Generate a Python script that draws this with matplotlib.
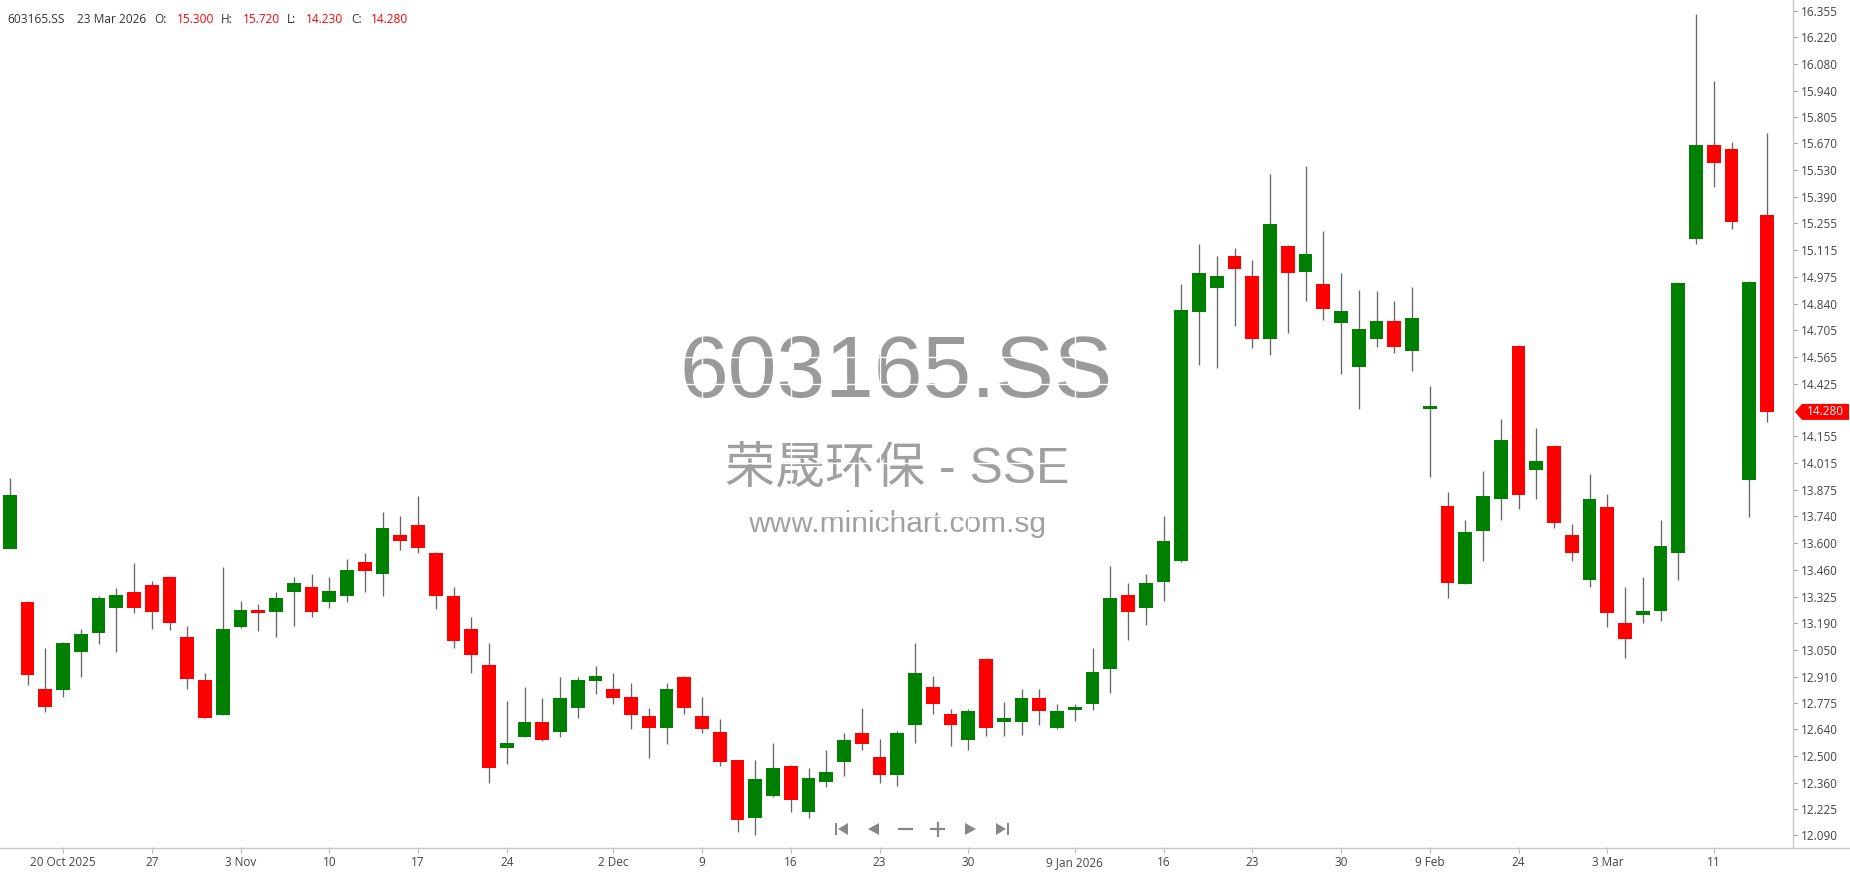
import matplotlib
matplotlib.use('Agg')
import matplotlib.pyplot as plt
from matplotlib.patches import Polygon, Rectangle

plt.rcParams['font.family'] = ['Open Sans', 'DejaVu Sans']

symbol = '603165.SS'
subtitle = '荣晟环保 - SSE'
site = 'www.minichart.com.sg'
last_date = '23 Mar 2026'

# daily OHLC (oldest first)
opens = [13.570, 13.295, 12.846, 12.841, 13.040, 13.138, 13.266, 13.347, 13.387, 13.425,
         13.114, 12.895, 12.711, 13.168, 13.248, 13.246, 13.349, 13.375, 13.297, 13.330,
         13.504, 13.440, 13.645, 13.697, 13.549, 13.330, 13.156, 12.969, 12.542, 12.601,
         12.677, 12.627, 12.749, 12.891, 12.846, 12.806, 12.709, 12.645, 12.910, 12.709,
         12.625, 12.478, 12.182, 12.293, 12.451, 12.213, 12.368, 12.471, 12.620, 12.495,
         12.401, 12.662, 12.857, 12.716, 12.583, 13.001, 12.675, 12.675, 12.800, 12.646,
         12.738, 12.769, 12.953, 13.332, 13.266, 13.402, 13.511, 14.799, 14.922, 15.086,
         14.985, 14.655, 15.139, 15.005, 14.939, 14.740, 14.513, 14.656, 14.748, 14.597,
         14.295, 13.794, 13.391, 13.663, 13.829, 14.619, 13.978, 14.105, 13.645, 13.410,
         13.788, 13.190, 13.232, 13.248, 13.551, 15.173, 15.660, 15.641, 13.927, 15.300]
highs = [13.940, 13.300, 13.058, 13.090, 13.156, 13.330, 13.370, 13.497, 13.407, 13.432,
         13.173, 12.928, 13.478, 13.304, 13.285, 13.349, 13.427, 13.440, 13.427, 13.518,
         13.549, 13.762, 13.743, 13.847, 13.556, 13.375, 13.218, 13.084, 12.787, 12.858,
         12.799, 12.910, 12.910, 12.968, 12.928, 12.877, 12.749, 12.877, 12.916, 12.806,
         12.691, 12.480, 12.478, 12.568, 12.453, 12.440, 12.530, 12.620, 12.749, 12.587,
         12.630, 13.086, 12.916, 12.745, 12.745, 13.005, 12.780, 12.846, 12.846, 12.767,
         12.767, 13.060, 13.483, 13.393, 13.443, 13.744, 14.939, 15.147, 15.088, 15.128,
         15.068, 15.511, 15.145, 15.550, 15.217, 15.000, 14.912, 14.904, 14.852, 14.924,
         14.413, 13.865, 13.722, 13.976, 14.245, 14.626, 14.197, 14.109, 13.698, 13.957,
         13.855, 13.373, 13.426, 13.722, 14.950, 16.338, 15.991, 15.674, 14.955, 15.720]
lows = [13.570, 12.866, 12.730, 12.808, 12.911, 13.079, 13.040, 13.239, 13.156, 13.151,
        12.846, 12.697, 12.711, 13.165, 13.149, 13.116, 13.175, 13.221, 13.266, 13.297,
        13.350, 13.330, 13.567, 13.549, 13.259, 13.059, 12.932, 12.361, 12.460, 12.598,
        12.580, 12.601, 12.697, 12.820, 12.768, 12.639, 12.490, 12.561, 12.717, 12.618,
        12.451, 12.109, 12.092, 12.290, 12.213, 12.180, 12.342, 12.399, 12.530, 12.361,
        12.347, 12.570, 12.719, 12.550, 12.532, 12.602, 12.602, 12.611, 12.662, 12.640,
        12.679, 12.736, 12.828, 13.102, 13.178, 13.303, 13.503, 14.523, 14.506, 14.725,
        14.609, 14.576, 14.688, 14.856, 14.757, 14.476, 14.295, 14.615, 14.585, 14.489,
        13.945, 13.320, 13.388, 13.508, 13.720, 13.778, 13.829, 13.679, 13.508, 13.377,
        13.166, 13.005, 13.190, 13.197, 13.410, 15.147, 15.443, 15.224, 13.739, 14.230]
closes = [13.850, 12.918, 12.754, 13.084, 13.130, 13.316, 13.335, 13.266, 13.246, 13.188,
          12.897, 12.697, 13.155, 13.257, 13.242, 13.316, 13.394, 13.246, 13.356, 13.464,
          13.459, 13.678, 13.614, 13.575, 13.330, 13.097, 13.022, 12.440, 12.567, 12.677,
          12.582, 12.799, 12.895, 12.916, 12.801, 12.711, 12.645, 12.846, 12.749, 12.639,
          12.471, 12.168, 12.380, 12.440, 12.272, 12.387, 12.418, 12.582, 12.561, 12.401,
          12.620, 12.929, 12.771, 12.662, 12.734, 12.646, 12.697, 12.800, 12.734, 12.734,
          12.756, 12.935, 13.319, 13.244, 13.397, 13.612, 14.808, 14.998, 14.983, 15.018,
          14.655, 15.250, 15.000, 15.095, 14.812, 14.800, 14.711, 14.748, 14.615, 14.765,
          14.311, 13.397, 13.659, 13.847, 14.137, 13.851, 14.027, 13.706, 13.551, 13.827,
          13.242, 13.105, 13.248, 13.587, 14.944, 15.660, 15.568, 15.263, 14.951, 14.280]

# date labels and the candle index they sit under
tick_idx = [3, 8, 13, 18, 23, 28, 34, 39, 44, 49, 54, 60, 65, 70, 75, 80, 85, 90, 96]
tick_labels = ['20 Oct 2025', '27', '3 Nov', '10', '17', '24', '2 Dec', '9', '16', '23',
               '30', '9 Jan 2026', '16', '23', '30', '9 Feb', '24', '3 Mar', '11']

price_labels = ['16.355', '16.220', '16.080', '15.940', '15.805', '15.670', '15.530', '15.390',
                '15.255', '15.115', '14.975', '14.840', '14.705', '14.565', '14.425', '14.155',
                '14.015', '13.875', '13.740', '13.600', '13.460', '13.325', '13.190', '13.050',
                '12.910', '12.775', '12.640', '12.500', '12.360', '12.225', '12.090']

W, H = 1850, 874
UP, DOWN, WICK = '#008000', '#ff0000', '#666666'
TXT = '#444444'

fig = plt.figure(figsize=(W / 100, H / 100), dpi=100)
ax = fig.add_axes([0, 27 / H, 1793 / W, 847 / H])
ov = fig.add_axes([0, 0, 1, 1], zorder=5)
ov.set_xlim(0, W)
ov.set_ylim(H, 0)
ov.axis('off')
ov.patch.set_alpha(0)

n = len(closes)
xs = list(range(n))
colors = [UP if c >= o else DOWN for o, c in zip(opens, closes)]
bottoms = [min(o, c) for o, c in zip(opens, closes)]
heights = [max(abs(c - o), 0.011) for o, c in zip(opens, closes)]

ax.vlines(xs, lows, highs, color=WICK, lw=0.95, zorder=2)
ax.bar(xs, heights, bottom=bottoms, width=0.77, color=colors, lw=0, zorder=3)

ax.set_xlim(-0.55, 100.46)
ax.set_ylim(12.030, 16.410)

# watermark, cut by white grid lines like the original
ax.text(896, 397, symbol, transform=ov.transData, ha='center', va='baseline',
        fontsize=63, color='#9a9a9a', family=['Liberation Sans', 'DejaVu Sans'], zorder=0.2)
ax.text(897, 482, subtitle, transform=ov.transData, ha='center', va='baseline',
        fontsize=36, color='#a0a0a0', family=['Liberation Sans', 'Noto Sans CJK SC'], zorder=0.2)
ax.text(897, 532, site, transform=ov.transData, ha='center', va='baseline',
        fontsize=21.5, color='#a0a0a0', family=['Liberation Sans', 'DejaVu Sans'], zorder=0.2)
ax.set_axisbelow(True)
ax.grid(True, color='white', lw=1.0)

ax.set_xticks(tick_idx)
ax.set_xticklabels(tick_labels)
ax.set_yticks([float(s) for s in price_labels])
ax.set_yticklabels(price_labels)
ax.yaxis.tick_right()
ax.tick_params(axis='y', length=3, width=0.8, color='#999999', pad=2.5,
               labelsize=8.5, labelcolor=TXT)
ax.tick_params(axis='x', length=4.5, width=0.8, color='#bbbbbb', pad=2,
               labelsize=8.5, labelcolor=TXT)
for side in ('top', 'left', 'bottom'):
    ax.spines[side].set_visible(False)
ax.spines['right'].set_color('#c8c8c8')
ax.spines['right'].set_linewidth(1.0)

# full-width base line
ov.plot([0, W], [847.5, 847.5], color='#c8c8c8', lw=1.0)

# last price marker on the price scale
y_last = H - ax.transData.transform((0, closes[-1]))[1]
ov.add_patch(Polygon([(1795, y_last), (1802, y_last - 8), (1849, y_last - 8),
                      (1849, y_last + 8), (1802, y_last + 8)], closed=True,
                     color=DOWN, lw=0))
ov.text(1825, y_last, f'{closes[-1]:.3f}', ha='center', va='center', color='white',
        fontsize=8.5)

# header line
header = [(symbol, '#333333'), (last_date, '#333333'),
          ('O:', '#333333'), (f'{opens[-1]:.3f}', DOWN),
          ('H:', '#333333'), (f'{highs[-1]:.3f}', DOWN),
          ('L:', '#333333'), (f'{lows[-1]:.3f}', DOWN),
          ('C:', '#333333'), (f'{closes[-1]:.3f}', DOWN)]
hx = [7, 77, 154, 177, 221, 243, 287, 306, 351, 371]
for (s, c), x in zip(header, hx):
    ov.text(x, 23, s, ha='left', va='baseline', color=c, fontsize=8.6)

# navigation buttons
g = '#888888'
cy = 829
ov.add_patch(Rectangle((835, cy - 6), 2.2, 12, color=g, lw=0))
ov.add_patch(Polygon([(838, cy), (848, cy - 6), (848, cy + 6)], color=g, lw=0))
ov.add_patch(Polygon([(868, cy), (879, cy - 6), (879, cy + 6)], color=g, lw=0))
ov.plot([899, 912], [cy, cy], color=g, lw=1.6)
ov.plot([931, 944], [cy, cy], color=g, lw=1.6)
ov.plot([937.5, 937.5], [cy - 6.5, cy + 6.5], color=g, lw=1.6)
ov.add_patch(Polygon([(976, cy), (965, cy - 6), (965, cy + 6)], color=g, lw=0))
ov.add_patch(Polygon([(1006, cy), (996, cy - 6), (996, cy + 6)], color=g, lw=0))
ov.add_patch(Rectangle((1006.5, cy - 6), 2.2, 12, color=g, lw=0))

fig.savefig('out.png', dpi=100)
